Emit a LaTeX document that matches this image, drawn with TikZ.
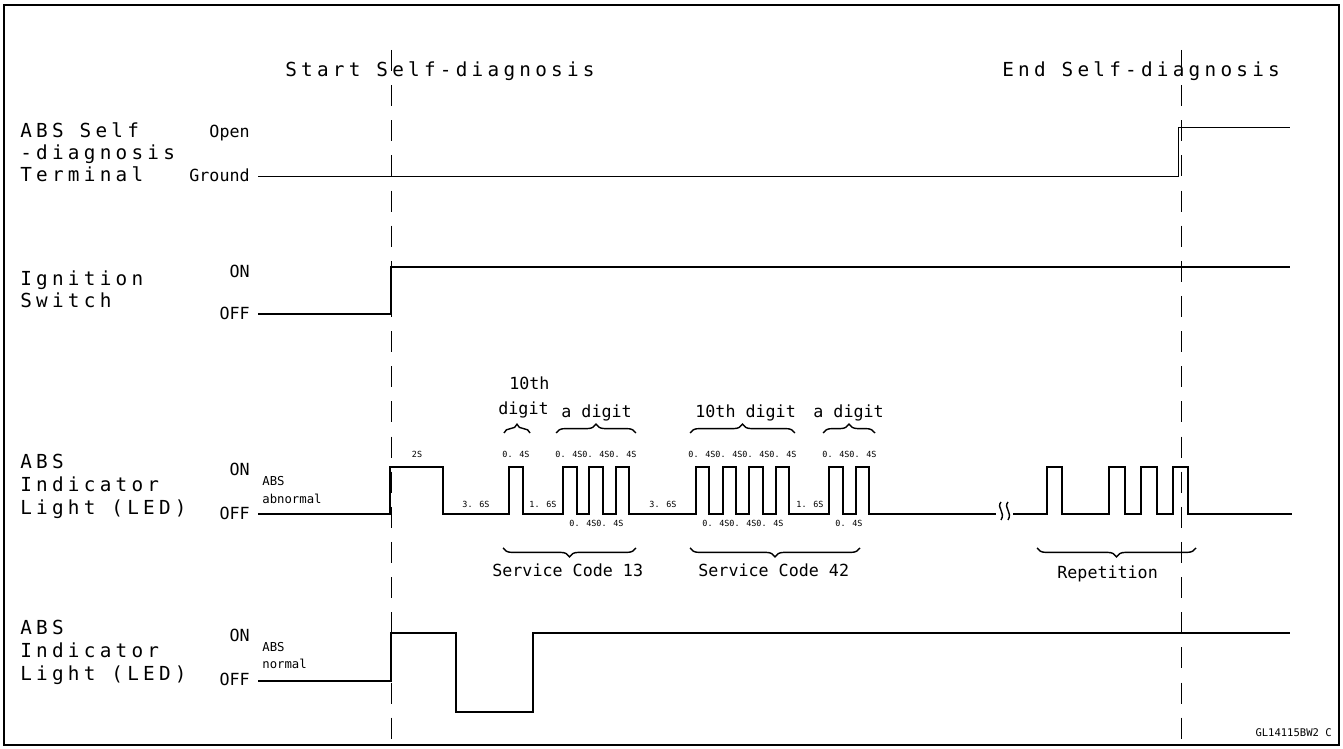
\documentclass[tikz,border=0pt]{standalone}
\usepackage{fontspec}
\setmainfont{DejaVu Sans Mono}[LetterSpace=22]
\newfontfamily\tinyfont{DejaVu Sans Mono}
\usetikzlibrary{decorations.pathreplacing}
\tikzset{
  lbl/.style={anchor=base west,inner sep=0pt,font=\fontsize{11}{12}\selectfont},
  nlbl/.style={anchor=base west,inner sep=0pt,font=\tinyfont\fontsize{9.5}{11}\selectfont},
  lvl/.style={anchor=base east,inner sep=0pt,font=\tinyfont\fontsize{9.5}{11}\selectfont},
  tm/.style={anchor=base,inner sep=0pt,font=\tinyfont\fontsize{4.8}{5}\selectfont},
  sml/.style={anchor=base west,inner sep=0pt,font=\tinyfont\fontsize{7}{8}\selectfont},
  sig/.style={line width=1pt},
  brc/.style={decorate,decoration={brace,amplitude=5pt},line width=0.8pt},
  mbrc/.style={decorate,decoration={brace,mirror,amplitude=5pt},line width=0.8pt}
}
\begin{document}
\begin{tikzpicture}[x=0.02cm,y=-0.02cm]
        \useasboundingbox (0,0) rectangle (1343,749);
        \draw[line width=1.2pt] (4,5) rectangle (1339,745);
        \draw[dashed,dash pattern=on 12pt off 8pt] (391,50)--(391,740);
        \draw[dashed,dash pattern=on 12pt off 8pt] (1181,50)--(1181,740);
        \node[lbl] (start) at (285,77) {Start Self-diagnosis};
        \node[lbl] (end) at (1002,77) {End Self-diagnosis};

        % terminal
        \node[lbl] (t1) at (20,138) {ABS Self};
        \node[lbl] (t2) at (20,160) {-diagnosis};
        \node[lbl] (t3) at (20,182) {Terminal};
        \node[lvl] (open) at (250,138) {Open};
        \node[lvl] (gnd) at (250,182) {Ground};
        \draw (258,176)--(1178,176)--(1178,127)--(1290,127);

        % ignition
        \node[lbl] (i1) at (20,286) {Ignition};
        \node[lbl] (i2) at (20,308) {Switch};
        \node[lvl] (on1) at (250,278) {ON};
        \node[lvl] (off1) at (250,320) {OFF};
        \draw[sig] (258,314)--(391,314)--(391,267)--(1290,267);

        % abnormal light
        \node[lbl] (a1) at (20,469) {ABS};
        \node[lbl] (a2) at (20,492) {Indicator};
        \node[lbl] (a3) at (20,515) {Light (LED)};
        \node[lvl] (on2) at (250,476) {ON};
        \node[lvl] (off2) at (250,520) {OFF};
        \node[sml] (abn1) at (262,486) {ABS};
        \node[sml] (abn2) at (262,504) {abnormal};
        \draw[sig] (258,514)--(390,514)--(390,467)--(443,467)--(443,514)
          --(509,514)--(509,467)--(523,467)--(523,514)
          --(563,514)--(563,467)--(577,467)--(577,514)--(589,514)--(589,467)--(603,467)--(603,514)--(616,514)--(616,467)--(629,467)--(629,514)
          --(696,514)--(696,467)--(709,467)--(709,514)--(723,514)--(723,467)--(736,467)--(736,514)--(749,514)--(749,467)--(763,467)--(763,514)--(776,514)--(776,467)--(789,467)--(789,514)
          --(829,514)--(829,467)--(843,467)--(843,514)--(856,514)--(856,467)--(869,467)--(869,514)--(996,514);
        \draw[line width=0.8pt] (1001,502) .. controls (996,508) and (1006,512) .. (1001,520);
        \draw[line width=0.8pt] (1008,502) .. controls (1003,508) and (1013,512) .. (1008,520);
        \draw[sig] (1013,514)--(1047,514)--(1047,467)--(1062,467)--(1062,514)
          --(1109,514)--(1109,467)--(1125,467)--(1125,514)--(1141,514)--(1141,467)--(1157,467)--(1157,514)
          --(1173,514)--(1173,467)--(1188,467)--(1188,514)--(1292,514);
        % times
        \node[tm] (d2) at (417,458) {2S};
        \node[tm] (d36a) at (476,508) {3. 6S};
        \node[tm] (d04a) at (516,458) {0. 4S};
        \node[tm] (d16a) at (543,508) {1. 6S};
        \foreach \x in {569,596,623,702,729,756,783,836,863}
          \node[tm] at (\x,458) {0. 4S};
        \foreach \x in {583,610,716,743,770,849}
          \node[tm] at (\x,527) {0. 4S};
        \node[tm] (d36b) at (663,508) {3. 6S};
        \node[tm] (d16b) at (810,508) {1. 6S};
        % braces
        \draw[brc] (504,433)--(530,433);
        \draw[brc] (556,433)--(636,433);
        \draw[brc] (690,433)--(795,433);
        \draw[brc] (823,433)--(875,433);
        \node[nlbl] (tenth) at (509,390) {10th};
        \node[nlbl] (dig) at (498,415) {digit};
        \node[nlbl] (ad1) at (561,418) {a digit};
        \node[nlbl] (td) at (695,418) {10th digit};
        \node[nlbl] (ad2) at (813,418) {a digit};
        \draw[mbrc] (503,548)--(636,548);
        \draw[mbrc] (690,548)--(860,548);
        \draw[mbrc] (1037,548)--(1196,548);
        \node[nlbl] (sc13) at (492,577) {Service Code 13};
        \node[nlbl] (sc42) at (698,577) {Service Code 42};
        \node[nlbl] (rep) at (1057,579) {Repetition};

        % normal light
        \node[lbl] (n1) at (20,635) {ABS};
        \node[lbl] (n2) at (20,658) {Indicator};
        \node[lbl] (n3) at (20,681) {Light (LED)};
        \node[lvl] (on3) at (250,642) {ON};
        \node[lvl] (off3) at (250,686) {OFF};
        \node[sml] (nor1) at (262,652) {ABS};
        \node[sml] (nor2) at (262,669) {normal};
        \draw[sig] (258,681)--(391,681)--(391,633)--(456,633)--(456,712)--(533,712)--(533,633)--(1290,633);

        \node[anchor=base east,inner sep=0pt,font=\tinyfont\fontsize{6}{7}\selectfont] (code) at (1332,737) {GL14115BW2 C};
\end{tikzpicture}
\end{document}
